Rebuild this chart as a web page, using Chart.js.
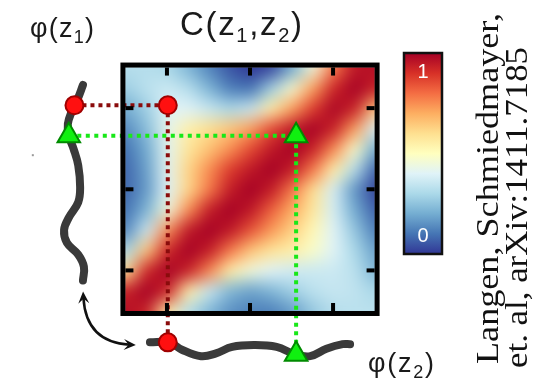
<!DOCTYPE html>
<html>
<head>
<meta charset="utf-8">
<script src="https://cdn.jsdelivr.net/npm/chart.js@4.4.1/dist/chart.umd.min.js"></script>
<style>
  html, body { margin: 0; padding: 0; background: #fff; }
  #wrap { width: 534px; height: 385px; }
</style>
</head>
<body>
<div id="wrap"><canvas id="c"></canvas></div>
<script>
// sample positions along z1 and z2 (same grid for both)
const zGrid = [0, 0.5, 1, 1.5, 2, 2.5, 3, 3.5, 4, 4.5, 5, 5.5, 6]
// C(z1,z2), rows from z1 = 6 (top) down to z1 = 0, columns z2 = 0 .. 6
const corr = [
  [0.32, 0.32, 0.30, 0.22, 0.13, 0.05, 0.00, 0.03, 0.20, 0.45, 0.78, 0.95, 0.97],
  [0.28, 0.33, 0.36, 0.32, 0.22, 0.12, 0.10, 0.28, 0.47, 0.72, 0.92, 1.00, 0.93],
  [0.20, 0.28, 0.40, 0.40, 0.35, 0.30, 0.35, 0.55, 0.72, 0.88, 0.99, 0.93, 0.65],
  [0.14, 0.24, 0.42, 0.55, 0.60, 0.65, 0.72, 0.86, 0.95, 1.00, 0.93, 0.72, 0.38],
  [0.10, 0.20, 0.41, 0.58, 0.66, 0.75, 0.86, 0.95, 1.00, 0.93, 0.75, 0.48, 0.20],
  [0.08, 0.18, 0.41, 0.62, 0.75, 0.88, 0.95, 1.00, 0.94, 0.78, 0.55, 0.32, 0.08],
  [0.08, 0.17, 0.40, 0.62, 0.78, 0.94, 1.00, 0.94, 0.78, 0.60, 0.38, 0.16, 0.02],
  [0.10, 0.22, 0.45, 0.75, 0.94, 1.00, 0.95, 0.82, 0.70, 0.57, 0.38, 0.20, 0.07],
  [0.14, 0.36, 0.75, 0.95, 1.00, 0.95, 0.84, 0.73, 0.63, 0.52, 0.40, 0.26, 0.12],
  [0.30, 0.65, 0.92, 1.00, 0.94, 0.78, 0.65, 0.58, 0.55, 0.48, 0.40, 0.30, 0.18],
  [0.60, 0.92, 1.00, 0.93, 0.76, 0.55, 0.45, 0.40, 0.37, 0.36, 0.36, 0.33, 0.22],
  [0.93, 1.00, 0.92, 0.55, 0.35, 0.22, 0.18, 0.22, 0.28, 0.33, 0.35, 0.34, 0.30],
  [0.97, 0.93, 0.55, 0.32, 0.22, 0.15, 0.12, 0.12, 0.17, 0.26, 0.32, 0.33, 0.33]
]
const axisTicks = [1, 3, 5]
const cbarLabels = ['1', '0']

// phase profiles
const z1Samples = [5.57, 5.2, 4.91, 4.61, 4.32, 4.0, 3.59, 3.05, 2.68, 2.3, 2.0, 1.68, 1.39, 1.09, 0.75]
const phi1 = [1.0, 0.4, -0.2, -0.6, -0.5, 0.0, 0.5, 0.7, 0.5, -0.5, -1.0, -0.7, 0.5, 1.1, 1.0]
const z2Samples = [0.59, 1.05, 1.36, 1.82, 2.18, 2.57, 3.09, 3.64, 4.09, 4.45, 4.84, 5.23, 5.41]
const phi2 = [0.7, 0.7, -0.1, -0.8, -0.5, 0.2, 0.4, 0.2, -0.6, -0.8, 0.0, 0.5, 0.5]

// the two picked points
const redPt = {z2: 1.02, z1: 5.07, phi1: 0.1, phi2: 0.7}
const greenPt = {z2: 4.11, z1: 4.32, phi1: -0.5, phi2: -0.6}

const W = 534, H = 385, PX = 44

// RdYlBu reversed
const cmap = [[49,54,149],[69,117,180],[116,173,209],[171,217,233],[224,243,248],[255,255,191],
  [254,224,144],[253,174,97],[244,109,67],[215,48,39],[165,0,38]]
function colorFor(v) {
  v = Math.max(0, Math.min(1, v)) * 10
  const i = Math.min(9, Math.floor(v)), f = v - i
  return cmap[i].map((c, k) => Math.round(c + (cmap[i + 1][k] - c) * f))
}

const SANS = '"Liberation Sans", Arial, sans-serif'
// text with subscripts, spread out to a given width
function subText(ctx, parts, x, y, size, sub, width) {
  const chars = []
  parts.forEach(([t, s]) => { for (const ch of t) chars.push([ch, s]) })
  let nat = 0
  chars.forEach(([ch, s]) => { ctx.font = (s ? sub : size) + 'px ' + SANS; nat += ctx.measureText(ch).width })
  const gap = width ? (width - nat) / (chars.length - 1) : 0
  chars.forEach(([ch, s]) => {
    ctx.font = (s ? sub : size) + 'px ' + SANS
    ctx.fillText(ch, x, s ? y + size * 0.22 : y)
    x += ctx.measureText(ch).width + gap
  })
}

function vertText(ctx, text, bx, by, size, len) {
  ctx.save()
  ctx.font = size + 'px "Liberation Serif", "Times New Roman", serif'
  const w = ctx.measureText(text).width
  ctx.translate(bx, by); ctx.rotate(-Math.PI / 2); ctx.scale(len / w, 1)
  ctx.fillText(text, 0, 0)
  ctx.restore()
}

function arrowHead(ctx, tx, ty, dx, dy) {
  const len = Math.hypot(dx, dy), ux = dx / len, uy = dy / len
  const L = 12, w = 5.5
  ctx.beginPath()
  ctx.moveTo(tx, ty)
  ctx.lineTo(tx - ux * L - uy * w, ty - uy * L + ux * w)
  ctx.lineTo(tx - ux * L * 0.6, ty - uy * L * 0.6)
  ctx.lineTo(tx - ux * L + uy * w, ty - uy * L - ux * w)
  ctx.closePath()
  ctx.fill()
}

const backdrop = {
  id: 'backdrop',
  beforeDatasetsDraw(chart) {
    const {ctx, scales} = chart
    const x = scales.x, y = scales.y, p1 = scales.p1, p2 = scales.p2
    const n = zGrid.length
    // heat map
    const off = document.createElement('canvas')
    off.width = n; off.height = n
    const octx = off.getContext('2d')
    const img = octx.createImageData(n, n)
    corr.forEach((row, j) => row.forEach((v, i) => {
      const c = colorFor(v), k = (j * n + i) * 4
      img.data[k] = c[0]; img.data[k + 1] = c[1]; img.data[k + 2] = c[2]; img.data[k + 3] = 255
    }))
    octx.putImageData(img, 0, 0)
    const half = (zGrid[1] - zGrid[0]) / 2
    const left = x.getPixelForValue(zGrid[0]), right = x.getPixelForValue(zGrid[n - 1])
    const top = y.getPixelForValue(zGrid[n - 1]), bottom = y.getPixelForValue(zGrid[0])
    ctx.save()
    ctx.beginPath(); ctx.rect(left, top, right - left, bottom - top); ctx.clip()
    ctx.imageSmoothingEnabled = true
    const ix0 = x.getPixelForValue(zGrid[0] - half), ix1 = x.getPixelForValue(zGrid[n - 1] + half)
    const iy0 = y.getPixelForValue(zGrid[n - 1] + half), iy1 = y.getPixelForValue(zGrid[0] - half)
    ctx.drawImage(off, ix0, iy0, ix1 - ix0, iy1 - iy0)
    ctx.filter = 'blur(6px)'
    ctx.drawImage(off, ix0, iy0, ix1 - ix0, iy1 - iy0)
    ctx.filter = 'none'
    ctx.restore()

    // dotted connectors
    const conn = (pt, col, dash) => {
      ctx.save()
      ctx.strokeStyle = col; ctx.lineWidth = 4; ctx.setLineDash(dash); ctx.lineCap = 'butt'
      const hx = x.getPixelForValue(pt.z2), hy = y.getPixelForValue(pt.z1)
      ctx.beginPath()
      ctx.moveTo(p1.getPixelForValue(pt.phi1), hy); ctx.lineTo(hx, hy)
      ctx.moveTo(hx, hy); ctx.lineTo(hx, p2.getPixelForValue(pt.phi2))
      ctx.stroke()
      ctx.restore()
    }
    conn(redPt, '#8a0c0c', [4, 4])
    conn(greenPt, '#18e818', [4, 4.5])

    // frame + ticks
    ctx.save()
    ctx.strokeStyle = '#000'; ctx.lineWidth = 5
    ctx.strokeRect(left - 2.5, top - 2.5, right - left + 5, bottom - top + 5)
    ctx.fillStyle = '#000'
    axisTicks.forEach(t => {
      const tx = x.getPixelForValue(t), ty = y.getPixelForValue(t)
      ctx.fillRect(tx - 2, top, 4, 8)
      ctx.fillRect(tx - 2, bottom - 8, 4, 8)
      ctx.fillRect(left, ty - 2, 8, 4)
      ctx.fillRect(right - 8, ty - 2, 8, 4)
    })
    ctx.restore()

    // colour bar
    ctx.save()
    const cbx = 404, cby = 53, cbw = 38, cbh = 201
    const g = ctx.createLinearGradient(0, cby, 0, cby + cbh)
    cmap.forEach((c, i) => g.addColorStop(1 - i / 10, 'rgb(' + c.join(',') + ')'))
    ctx.fillStyle = g
    ctx.fillRect(cbx, cby, cbw, cbh)
    ctx.strokeStyle = '#111'; ctx.lineWidth = 2.5
    ctx.strokeRect(cbx, cby, cbw, cbh)
    ctx.fillStyle = '#fff'
    ctx.font = '20px ' + SANS
    ctx.textAlign = 'center'; ctx.textBaseline = 'middle'
    ctx.fillText(cbarLabels[0], cbx + cbw / 2, 72)
    ctx.fillText(cbarLabels[1], cbx + cbw / 2, 236)
    ctx.restore()

    // labels
    ctx.save()
    ctx.fillStyle = '#1a1a1a'
    ctx.textBaseline = 'alphabetic'
    subText(ctx, [['C(z', 0], ['1', 1], [',z', 0], ['2', 1], [')', 0]], 180, 35, 33, 20, 122)
    subText(ctx, [['\u03c6(z', 0], ['1', 1], [')', 0]], 30, 37, 27, 18, 64)
    subText(ctx, [['\u03c6(z', 0], ['2', 1], [')', 0]], 368, 372, 27, 18, 66)
    ctx.fillStyle = '#111'
    vertText(ctx, 'Langen, Schmiedmayer,', 498, 364, 31, 351)
    vertText(ctx, 'et. al, arXiv:1411.7185', 527, 368, 31, 321)
    ctx.fillStyle = '#999'
    ctx.fillRect(x.getPixelForValue(-2.23) - 1, y.getPixelForValue(3.84) - 1, 2, 2)
    ctx.restore()
  },
  afterDraw(chart) {
    const {ctx, scales} = chart
    const x = scales.x, y = scales.y
    // double arrow between the two profiles
    const s = [x.getPixelForValue(-1.02), y.getPixelForValue(0.48)]
    const c = [x.getPixelForValue(-0.95), y.getPixelForValue(-0.77)]
    const e = [x.getPixelForValue(0.25), y.getPixelForValue(-0.84)]
    ctx.save()
    ctx.strokeStyle = '#111'; ctx.fillStyle = '#111'; ctx.lineWidth = 2.5
    ctx.beginPath()
    ctx.moveTo(s[0] + (c[0] - s[0]) * 0.12, s[1] + (c[1] - s[1]) * 0.12)
    ctx.quadraticCurveTo(c[0], c[1], e[0] - (e[0] - c[0]) * 0.12, e[1] - (e[1] - c[1]) * 0.12)
    ctx.stroke()
    arrowHead(ctx, s[0], s[1], s[0] - c[0], s[1] - c[1])
    arrowHead(ctx, e[0], e[1], e[0] - c[0], e[1] - c[1])
    ctx.restore()
  }
}

const markerStyle = {
  pointStyle: ['circle', 'triangle'],
  pointRadius: [9, 13],
  pointBackgroundColor: ['#ff1010', '#10f010'],
  pointBorderColor: ['#a00000', '#008a00'],
  pointBorderWidth: 2,
  showLine: false
}

new Chart(document.getElementById('c'), {
  type: 'scatter',
  data: {
    datasets: [
      Object.assign({ data: [{x: redPt.z2, y: redPt.z1}, {x: greenPt.z2, y: greenPt.z1}], xAxisID: 'x', yAxisID: 'y' }, markerStyle),
      Object.assign({ data: [{x: redPt.phi1, y: redPt.z1}, {x: greenPt.phi1, y: greenPt.z1}], xAxisID: 'p1', yAxisID: 'y' }, markerStyle),
      Object.assign({ data: [{x: redPt.z2, y: redPt.phi2}, {x: greenPt.z2, y: greenPt.phi2}], xAxisID: 'x', yAxisID: 'p2' }, markerStyle),
      {
        data: z1Samples.map((z, i) => ({x: phi1[i], y: z})),
        xAxisID: 'p1', yAxisID: 'y',
        showLine: true, pointRadius: 0, borderColor: '#3a3a3a', borderWidth: 8,
        borderCapStyle: 'round', borderJoinStyle: 'round', tension: 0.4
      },
      {
        data: z2Samples.map((z, i) => ({x: z, y: phi2[i]})),
        xAxisID: 'x', yAxisID: 'p2',
        showLine: true, pointRadius: 0, borderColor: '#3a3a3a', borderWidth: 8,
        borderCapStyle: 'round', borderJoinStyle: 'round', tension: 0.4
      }
    ]
  },
  options: {
    responsive: true,
    maintainAspectRatio: false,
    animation: false,
    events: [],
    layout: { padding: 0 },
    plugins: { legend: { display: false }, tooltip: { enabled: false } },
    scales: {
      x: { type: 'linear', display: false, min: -117 / PX, max: (W - 117) / PX },
      y: { type: 'linear', display: false, min: (321 - H) / PX, max: 321 / PX },
      p1: { type: 'linear', axis: 'x', position: 'bottom', display: false, min: -62 / 10, max: (W - 62) / 10 },
      p2: { type: 'linear', axis: 'y', position: 'left', display: false, min: (362 - H) / 10, max: 362 / 10 }
    }
  },
  plugins: [backdrop]
})
</script>
</body>
</html>
